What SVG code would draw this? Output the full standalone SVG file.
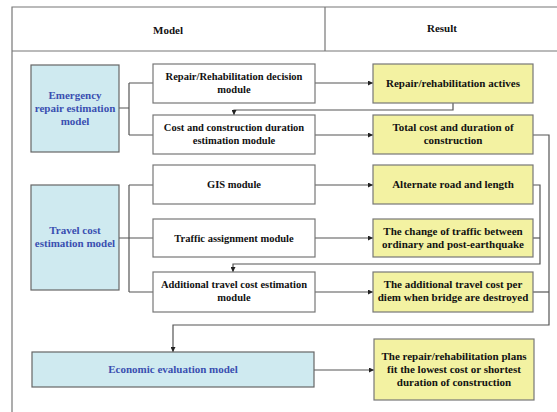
<svg xmlns="http://www.w3.org/2000/svg" width="557" height="412" viewBox="0 0 557 412">
<style>
.t{font-family:"Liberation Serif","Times New Roman",serif;font-weight:bold;font-size:10.5px;fill:#111;text-anchor:middle}
.y{font-size:11px}
.b{fill:#3a4fb0;font-size:11px}
.h{font-size:11px}
.mod{fill:#fff;stroke:#777;stroke-width:1.2}
.blue{fill:#cfeaf0;stroke:#666;stroke-width:1.2}
.yel{fill:#f3f2a2;stroke:#777;stroke-width:1.2}
.c{fill:none;stroke:#555;stroke-width:1.2}
.frame{fill:none;stroke:#777;stroke-width:1.2}
</style>
<defs>
<marker id="ar" viewBox="0 0 10 10" refX="10" refY="5" markerWidth="5" markerHeight="5" orient="auto" markerUnits="userSpaceOnUse">
<path d="M0,0 L10,5 L0,10 z" fill="#222"/>
</marker>
</defs>
<rect width="557" height="412" fill="#fff"/>
<g id="frame">
<path class="frame" d="M557,7 H12 V412 M12,51 H557 M325,7 V51"/>
<text class="t h" x="168" y="34">Model</text>
<text class="t h" x="442" y="32">Result</text>
</g>
<g id="connectors">
<path class="c" d="M119,108 H129 M129,83 V135 M129,83 H153 M129,135 H153"/>
<path class="c" d="M315,83 H373" marker-end="url(#ar)"/>
<path class="c" d="M315,135 H373" marker-end="url(#ar)"/>
<path class="c" d="M453,103 V110 H234 V115" marker-end="url(#ar)"/>
<path class="c" d="M119,238 H129 M129,185 V292 M129,185 H153 M129,238 H153 M129,292 H153"/>
<path class="c" d="M315,185 H373" marker-end="url(#ar)"/>
<path class="c" d="M315,238 H373" marker-end="url(#ar)"/>
<path class="c" d="M315,292 H373" marker-end="url(#ar)"/>
<path class="c" d="M533,185 H540 V264 H233 V272" marker-end="url(#ar)"/>
<path class="c" d="M533,238 H540"/>
<path class="c" d="M533,135 H549 V325 H173 V352" marker-end="url(#ar)"/>
<path class="c" d="M533,292 H549"/>
<path class="c" d="M314,370 H374" marker-end="url(#ar)"/>
</g>
<g id="emergency">
<rect class="blue" x="31" y="65" width="88" height="87"/>
<text class="t b" x="75" y="99">Emergency</text>
<text class="t b" x="75" y="112">repair estimation</text>
<text class="t b" x="75" y="125">model</text>
</g>
<g id="m-decision">
<rect class="mod" x="153" y="64" width="162" height="39"/>
<text class="t" x="234" y="80">Repair/Rehabilitation decision</text>
<text class="t" x="234" y="93">module</text>
</g>
<g id="m-cost">
<rect class="mod" x="153" y="115" width="162" height="39"/>
<text class="t" x="234" y="131">Cost and construction duration</text>
<text class="t" x="234" y="144">estimation module</text>
</g>
<g id="r-actives">
<rect class="yel" x="373" y="64" width="160" height="39"/>
<text class="t y" x="453" y="87">Repair/rehabilitation actives</text>
</g>
<g id="r-total">
<rect class="yel" x="373" y="115" width="160" height="39"/>
<text class="t y" x="453" y="131">Total cost and duration of</text>
<text class="t y" x="453" y="144">construction</text>
</g>
<g id="travel">
<rect class="blue" x="31" y="185" width="88" height="105"/>
<text class="t b" x="75" y="234">Travel cost</text>
<text class="t b" x="75" y="247">estimation model</text>
</g>
<g id="m-gis">
<rect class="mod" x="153" y="165" width="162" height="39"/>
<text class="t" x="234" y="188">GIS module</text>
</g>
<g id="m-traffic">
<rect class="mod" x="153" y="219" width="162" height="38"/>
<text class="t" x="234" y="242">Traffic assignment module</text>
</g>
<g id="m-additional">
<rect class="mod" x="153" y="272" width="162" height="40"/>
<text class="t" x="234" y="288">Additional travel cost estimation</text>
<text class="t" x="234" y="301">module</text>
</g>
<g id="r-alternate">
<rect class="yel" x="373" y="165" width="160" height="39"/>
<text class="t y" x="453" y="188">Alternate road and length</text>
</g>
<g id="r-change">
<rect class="yel" x="373" y="219" width="160" height="38"/>
<text class="t y" x="453" y="235">The change of traffic between</text>
<text class="t y" x="453" y="248">ordinary and post-earthquake</text>
</g>
<g id="r-additional">
<rect class="yel" x="373" y="272" width="160" height="40"/>
<text class="t y" x="453" y="288">The additional travel cost per</text>
<text class="t y" x="453" y="301">diem when bridge are destroyed</text>
</g>
<g id="economic">
<rect class="blue" x="32" y="352" width="282" height="35"/>
<text class="t b" x="173" y="373">Economic evaluation model</text>
</g>
<g id="r-plans">
<rect class="yel" x="374" y="339" width="160" height="61"/>
<text class="t y" x="454" y="360">The repair/rehabilitation plans</text>
<text class="t y" x="454" y="373">fit the lowest cost or shortest</text>
<text class="t y" x="454" y="386">duration of construction</text>
</g>
</svg>
